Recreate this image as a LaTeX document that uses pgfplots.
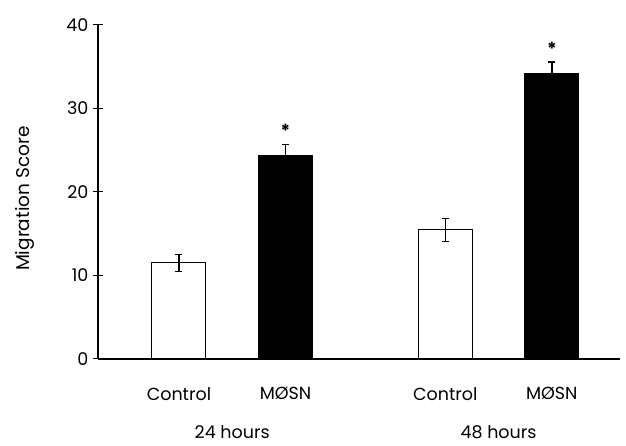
\documentclass[border=0pt]{standalone}
\usepackage{fontspec}
\setmainfont{Poppins}
\usepackage{pgfplots}
\pgfplotsset{compat=1.18}
\begin{document}
\begin{tikzpicture}
\begin{axis}[
  scale only axis,
  width=522pt, height=334pt,
  xmin=-0.76, xmax=4.14,
  ymin=0, ymax=40,
  axis x line=bottom, axis y line=left,
  axis line style={-, line width=1.1pt},
  ytick={0,10,20,30,40},
  tick align=center,
  major tick length=10pt,
  tick style={line width=1pt, black},
  xtick={0,1,2.5,3.5},
  xticklabels={Control, MØSN, Control, MØSN},
  x tick style={draw=none},
  xticklabel style={yshift=-15pt},
  yticklabel style={xshift=-1pt},
  /pgf/number format/assume math mode=true,
  tick label style={font=\fontsize{17.5}{19}\selectfont},
  ylabel={Migration Score},
  every axis y label/.style={at={(axis description cs:0,0.48)}, xshift=-73pt, rotate=90, anchor=center, font=\fontsize{18.5}{20}\selectfont},
  ybar, bar width=54pt, bar shift=0pt,
  clip=false,
]
\addplot[fill=white, draw=black, line width=1pt, bar shift=0pt,
  error bars/.cd, y dir=both, y explicit,
  error bar style={line width=1.4pt},
  error mark options={rotate=90, mark size=3.5pt, line width=1.4pt}]
  coordinates {(0,11.5) +- (0,1.05) (2.5,15.45) +- (0,1.4)};
\addplot[fill=black, draw=black, line width=1pt, bar shift=0pt,
  error bars/.cd, y dir=plus, y explicit,
  error bar style={line width=1.6pt},
  error mark options={rotate=90, mark size=3.5pt, line width=1.6pt}]
  coordinates {(1,24.4) +- (0,1.3) (3.5,34.2) +- (0,1.4)};
\node[font=\fontsize{18}{20}\selectfont\bfseries] at (axis cs:1,27.3) {*};
\node[font=\fontsize{18}{20}\selectfont\bfseries] at (axis cs:3.5,37.2) {*};
\node[font=\fontsize{17.5}{19}\selectfont, anchor=center] at (axis cs:0.5,0) [yshift=-73pt] {24 hours};
\node[font=\fontsize{17.5}{19}\selectfont, anchor=center] at (axis cs:3,0) [yshift=-73pt] {48 hours};
\coordinate (ll) at (rel axis cs:0,0);
\coordinate (ur) at (rel axis cs:1,1);
\end{axis}
\pgfresetboundingbox
\path ([shift={(-98pt,-86pt)}]ll) rectangle ([shift={(6pt,25pt)}]ur);
\end{tikzpicture}
\end{document}
